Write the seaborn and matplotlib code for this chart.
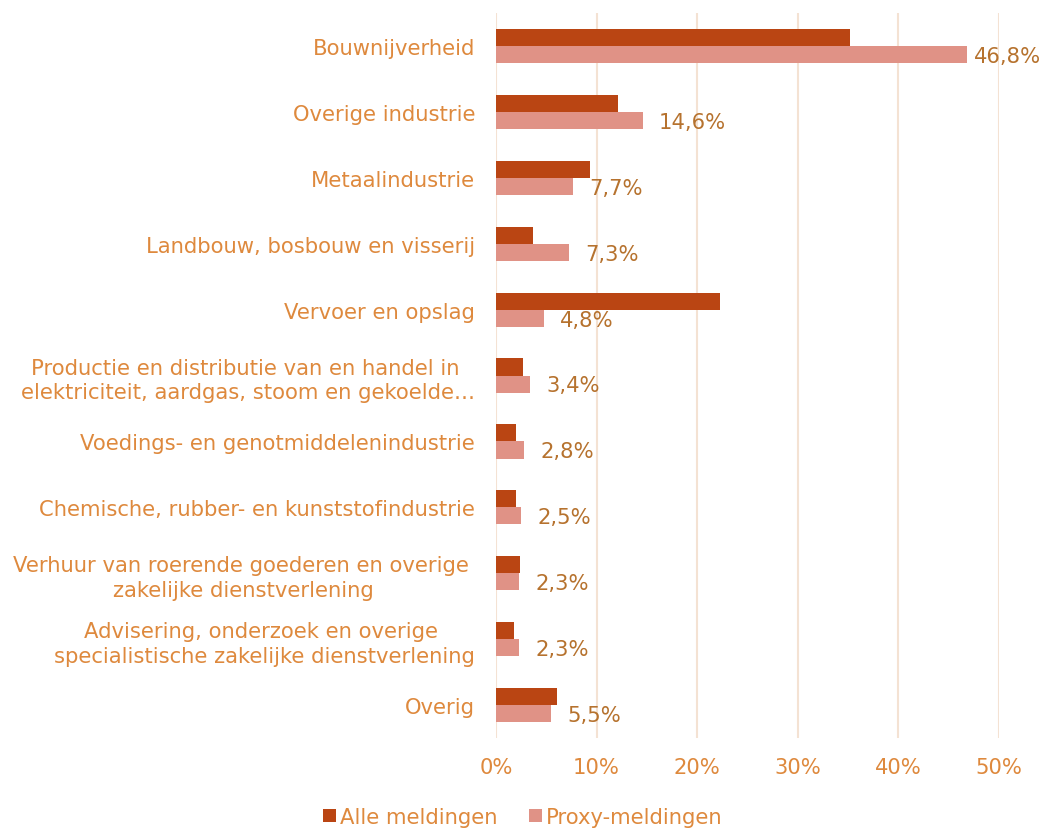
import matplotlib
matplotlib.use("Agg")
import matplotlib.pyplot as plt
import seaborn as sns
import pandas as pd

# Values per sector
sectors = [
    "Bouwnijverheid",
    "Overige industrie",
    "Metaalindustrie",
    "Landbouw, bosbouw en visserij",
    "Vervoer en opslag",
    "Productie en distributie van en handel in \nelektriciteit, aardgas, stoom en gekoelde…",
    "Voedings- en genotmiddelenindustrie",
    "Chemische, rubber- en kunststofindustrie",
    "Verhuur van roerende goederen en overige \nzakelijke dienstverlening",
    "Advisering, onderzoek en overige \nspecialistische zakelijke dienstverlening",
    "Overig",
]
alle = [35.2, 12.1, 9.3, 3.7, 22.3, 2.7, 2.0, 2.0, 2.4, 1.8, 6.1]
proxy = [46.8, 14.6, 7.7, 7.3, 4.8, 3.4, 2.8, 2.5, 2.3, 2.3, 5.5]
series = ["Alle meldingen", "Proxy-meldingen"]
colors = ["#BA4513", "#E09286"]

df = pd.DataFrame({
    "sector": sectors * 2,
    "value": alle + proxy,
    "serie": [series[0]] * len(sectors) + [series[1]] * len(sectors),
})

sns.set_style("white")
plt.rcParams['font.family'] = ['DejaVu Sans']
tick_color = "#DE893D"
label_color = "#B6722E"
grid_color = "#F4E2D3"
fs = 15.2

fig = plt.figure(figsize=(10.46, 8.29), dpi=100)
ax = fig.add_axes([0.4742, 0.1086, 0.955 - 0.4742, 0.983 - 0.1086])

sns.barplot(data=df, y="sector", x="value", hue="serie", order=sectors,
            hue_order=series, palette=colors, orient="h", width=0.52,
            saturation=1, linewidth=0, ax=ax, legend=True)

ax.set_xlim(0, 50)
ax.set_ylim(len(sectors) - 0.5, -0.5)
ax.set_xticks(range(0, 51, 10))
ax.set_xticklabels([f"{t}%" for t in range(0, 51, 10)])
ax.xaxis.grid(True, color=grid_color, linewidth=1.5)
ax.set_axisbelow(True)
for s in ax.spines.values():
    s.set_visible(False)
ax.set_xlabel("")
ax.set_ylabel("")
ax.tick_params(axis="x", length=0, pad=14, labelsize=fs, labelcolor=tick_color)
ax.tick_params(axis="y", length=0, pad=15, labelsize=fs, labelcolor=tick_color)
for lbl in ax.get_yticklabels():
    lbl.set_multialignment("center")
    lbl.set_linespacing(1.3)

# data labels for the proxy series
for i, v in enumerate(proxy):
    off = 0.7 if v > 40 else 1.6
    ax.text(v + off, i + 0.15, f"{v:.1f}%".replace(".", ","), va="center",
            ha="left", fontsize=fs, color=label_color, clip_on=False)

handles, labels = ax.get_legend_handles_labels()
ax.legend_.remove()
fig.legend(handles, labels, loc="lower center", bbox_to_anchor=(0.5, -0.022),
           ncol=2, frameon=False, fontsize=fs, labelcolor=tick_color,
           handlelength=0.6, handleheight=0.6, handletextpad=0.2,
           columnspacing=1.5)

fig.savefig("out.png", dpi=100)
